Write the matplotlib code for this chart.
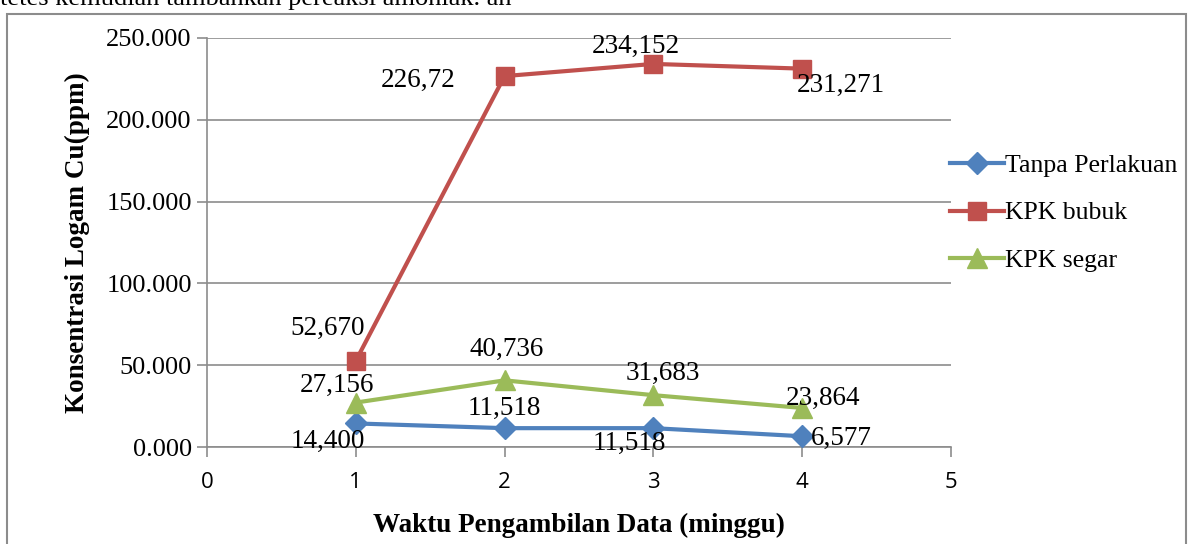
import numpy as np
import matplotlib.pyplot as plt
from matplotlib.patches import Rectangle

# data
minggu = [1, 2, 3, 4]
tanpa_perlakuan = [14.400, 11.518, 11.518, 6.577]
kpk_bubuk = [52.670, 226.72, 234.152, 231.271]
kpk_segar = [27.156, 40.736, 31.683, 23.864]
label_tanpa = ["14,400", "11,518", "11,518", "6,577"]
label_bubuk = ["52,670", "226,72", "234,152", "231,271"]
label_segar = ["27,156", "40,736", "31,683", "23,864"]

serif = "Liberation Serif"
sans = "Open Sans"

fig = plt.figure(figsize=(11.88, 5.44), dpi=100)
ax = fig.add_axes([207 / 1188, 1 - 447 / 544, (951 - 207) / 1188, (447 - 38) / 544])

# lines
ax.plot(minggu, tanpa_perlakuan, color="#4F81BD", lw=3, marker="D", ms=11,
        label="Tanpa Perlakuan", zorder=3)
ax.plot(minggu, kpk_bubuk, color="#C0504D", lw=3, marker="s", ms=13,
        label="KPK bubuk", zorder=3)
ax.plot(minggu, kpk_segar, color="#9BBB59", lw=3, marker="^", ms=14,
        label="KPK segar", zorder=3)

# data labels (offsets in pixels)
off_tanpa = [(-28, -18), (0, 20), (-24, -15), (39, -2)]
off_bubuk = [(-28, 32), (-86, -4), (-18, 18), (39, -17)]
off_segar = [(-19, 17), (2, 31), (9, 22), (21, 10)]
for xs, ys, labs, offs in [(minggu, tanpa_perlakuan, label_tanpa, off_tanpa),
                           (minggu, kpk_bubuk, label_bubuk, off_bubuk),
                           (minggu, kpk_segar, label_segar, off_segar)]:
    for x, y, t, o in zip(xs, ys, labs, offs):
        ax.annotate(t, (x, y), xytext=o, textcoords="offset pixels",
                    ha="center", va="center", fontsize=19.5, family=serif, zorder=4)

ax.set_xlim(0, 5)
ax.set_ylim(0, 250)
ax.set_xticks(range(0, 6))
ax.set_yticks(np.arange(0, 251, 50))
ax.set_yticklabels([f"{v:.3f}" for v in np.arange(0, 251, 50)], family=serif, fontsize=19)
ax.set_xticklabels([str(v) for v in range(0, 6)], family=sans, fontsize=16)
ax.grid(axis="y", color="#8c8c8c", lw=1.2)
ax.set_axisbelow(True)
for s in ["top", "right"]:
    ax.spines[s].set_visible(False)
for s in ["left", "bottom"]:
    ax.spines[s].set_color("#8c8c8c")
    ax.spines[s].set_linewidth(1.2)
ax.tick_params(axis="both", color="#8c8c8c", length=7, width=1.2, direction="out")
ax.tick_params(axis="x", pad=11)
ax.tick_params(axis="y", pad=4)

ax.set_xlabel("Waktu Pengambilan Data (minggu)", family=serif, fontsize=19.5,
              fontweight="bold", labelpad=14)
ax.set_ylabel("Konsentrasi Logam Cu(ppm)", family=serif, fontsize=19.5,
              fontweight="bold", labelpad=12)

fig.legend(loc="center left", bbox_to_anchor=(937 / 1188, 1 - 213 / 544),
           frameon=False, prop={"family": serif, "size": 18.5},
           handlelength=2.1, handletextpad=0.05, labelspacing=0.95, borderpad=0)

# frame around the chart and the cut-off text above it
fig.patches.append(Rectangle((7 / 1188, -0.05), 1179 / 1188, 1.05 - 14 / 544,
                             transform=fig.transFigure, fill=False,
                             edgecolor="#8c8c8c", lw=1.5))
fig.text(0, 1 - 5 / 544, "tetes kemudian tambahkan pereaksi amoniak. an",
         family=serif, fontsize=19, ha="left", va="baseline")

fig.savefig("out.png", dpi=100)
